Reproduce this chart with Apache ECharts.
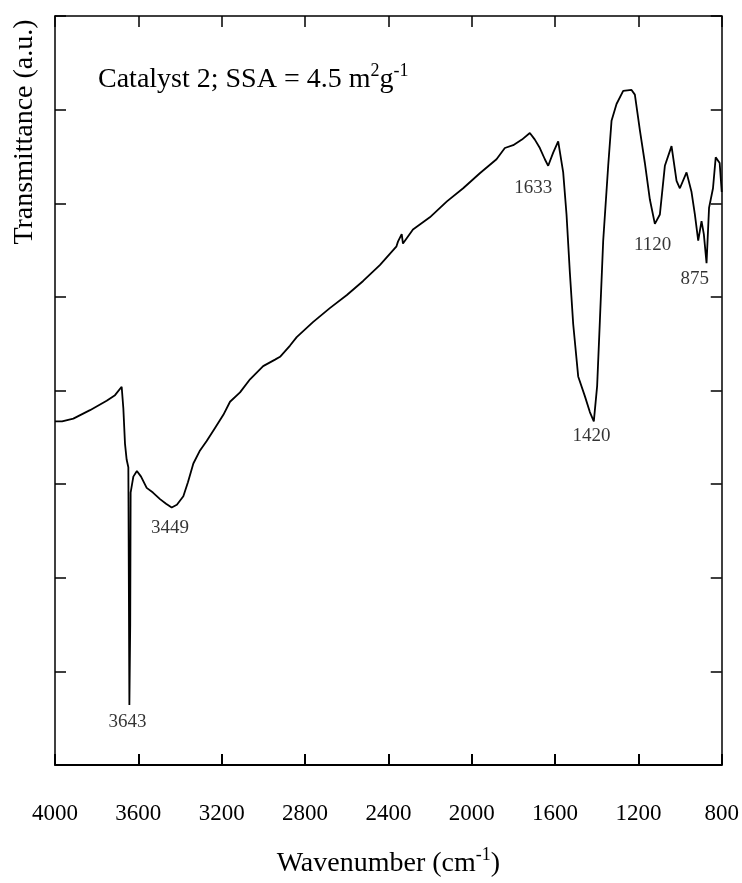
<!DOCTYPE html>
<html>
<head>
<meta charset="utf-8">
<script src="https://cdn.jsdelivr.net/npm/echarts@6/dist/echarts.min.js"></script>
<style>
  html, body { margin: 0; padding: 0; background: #fff; }
  #chart { width: 742px; height: 883px; }
</style>
</head>
<body>
<div id="chart"></div>
<script>
// spectrum (wavenumber in cm-1, transmittance in a.u.)
var wavenumber = [
  4000, 3966, 3912, 3832, 3752, 3712, 3680, 3672, 3664, 3656, 3648,
  3643, 3639, 3637, 3624, 3607, 3587, 3560, 3530, 3496, 3467, 3440,
  3415, 3384, 3362, 3336, 3304, 3272, 3232, 3192, 3160, 3112, 3064,
  3001, 2944, 2920, 2872, 2840, 2762, 2681, 2599, 2521, 2441, 2361,
  2354, 2336, 2330, 2282, 2201, 2119, 2041, 1961, 1881, 1841, 1801,
  1759, 1721, 1697, 1673, 1649, 1633, 1609, 1585, 1561, 1545, 1529,
  1513, 1489, 1457, 1433, 1414, 1398, 1385, 1369, 1345, 1329, 1305,
  1273, 1233, 1217, 1193, 1169, 1145, 1121, 1097, 1073, 1041, 1017,
  1001, 969, 945, 929, 913, 897, 886, 873, 861, 842, 829, 810, 800
];
var transmittance = [
  3.67, 3.67, 3.70, 3.79, 3.89, 3.95, 4.04, 3.81, 3.43, 3.26, 3.18,
  0.64, 1.50, 2.91, 3.08, 3.14, 3.08, 2.96, 2.91, 2.84, 2.79, 2.75,
  2.78, 2.87, 3.02, 3.22, 3.36, 3.46, 3.60, 3.74, 3.88, 3.98, 4.12,
  4.26, 4.33, 4.36, 4.48, 4.57, 4.73, 4.88, 5.02, 5.17, 5.34, 5.54,
  5.59, 5.67, 5.57, 5.72, 5.85, 6.02, 6.16, 6.32, 6.47, 6.59, 6.62,
  6.68, 6.75, 6.68, 6.59, 6.47, 6.40, 6.54, 6.66, 6.33, 5.88, 5.26,
  4.71, 4.15, 3.94, 3.77, 3.67, 4.05, 4.74, 5.60, 6.40, 6.88, 7.06,
  7.20, 7.21, 7.16, 6.78, 6.43, 6.04, 5.78, 5.88, 6.40, 6.61, 6.24,
  6.16, 6.33, 6.12, 5.88, 5.60, 5.81, 5.67, 5.36, 5.95, 6.16, 6.49, 6.43, 6.12
];

// peak annotations
var peakLabels = ['3643', '3449', '1633', '1420', '1120', '875'];
var peakLabelX = [3652, 3448, 1705, 1425, 1132, 929];
var peakLabelY = [0.46, 2.53, 6.16, 3.51, 5.55, 5.19];

var serif = '"Liberation Serif", "DejaVu Serif", serif';

var lineData = [];
for (var i = 0; i < wavenumber.length; i++) {
  lineData.push([wavenumber[i], transmittance[i]]);
}
var labelData = [];
for (var j = 0; j < peakLabels.length; j++) {
  labelData.push([peakLabelX[j], peakLabelY[j], peakLabels[j]]);
}

function line(w) {
  return { show: true, onZero: false, lineStyle: { color: '#000', width: w } };
}
function tick(w) {
  return { show: true, inside: true, length: 11, lineStyle: { color: '#000', width: w } };
}
function frameAxis(pos) {
  var horiz = pos === 'top' || pos === 'bottom';
  return {
    type: 'value', min: horiz ? 800 : 0, max: horiz ? 4000 : 8,
    interval: horiz ? 400 : 1, inverse: horiz, position: pos,
    axisLine: line(pos === 'bottom' ? 2 : 1.5), axisTick: tick(pos === 'bottom' ? 2 : 1.5),
    axisLabel: { show: false }, splitLine: { show: false }
  };
}

var chart = echarts.init(document.getElementById('chart'));

var bottomAxis = frameAxis('bottom');
bottomAxis.axisLabel = {
  show: true,
  color: '#000',
  fontFamily: serif,
  fontSize: 23,
  margin: 37,
  formatter: function (v) { return String(v); }
};
bottomAxis.name = '{a|Wavenumber (cm}{s|-1}{a|)}';
bottomAxis.nameLocation = 'middle';
bottomAxis.nameGap = 81;
bottomAxis.nameTextStyle = {
  rich: {
    a: { fontSize: 28, fontFamily: serif, color: '#000' },
    s: { fontSize: 18, fontFamily: serif, color: '#000', padding: [0, 0, 18, 0] }
  }
};

var option = {
  backgroundColor: '#fff',
  animation: false,
  grid: { left: 55, right: 20, top: 16, bottom: 96 },
  graphic: [
    {
      type: 'text',
      x: 25,
      y: 132,
      rotation: Math.PI / 2,
      style: {
        text: 'Transmittance (a.u.)',
        font: '28px ' + serif,
        fill: '#000',
        textAlign: 'center',
        textVerticalAlign: 'middle',
        align: 'center',
        verticalAlign: 'middle'
      }
    },
    {
      type: 'text',
      x: 98,
      y: 80,
      style: {
        text: '{a|Catalyst 2; SSA = 4.5 m}{s|2}{a|g}{s|-1}',
        fill: '#000',
        textVerticalAlign: 'middle',
        verticalAlign: 'middle',
        rich: {
          a: { fontSize: 28, fontFamily: serif, color: '#000' },
          s: { fontSize: 18, fontFamily: serif, color: '#000', padding: [0, 0, 18, 0] }
        }
      }
    }
  ],
  xAxis: [bottomAxis, frameAxis('top')],
  yAxis: [frameAxis('left'), frameAxis('right')],
  series: [
    {
      type: 'line',
      data: lineData,
      showSymbol: false,
      symbol: 'none',
      lineStyle: { color: '#000', width: 1.8 },
      z: 3
    },
    {
      type: 'scatter',
      data: labelData,
      symbolSize: 0,
      silent: true,
      label: {
        show: true,
        position: 'inside',
        color: '#000',
        fontFamily: serif,
        fontSize: 19,
        formatter: function (p) { return p.value[2]; }
      }
    }
  ]
};

chart.setOption(option);
</script>
</body>
</html>
